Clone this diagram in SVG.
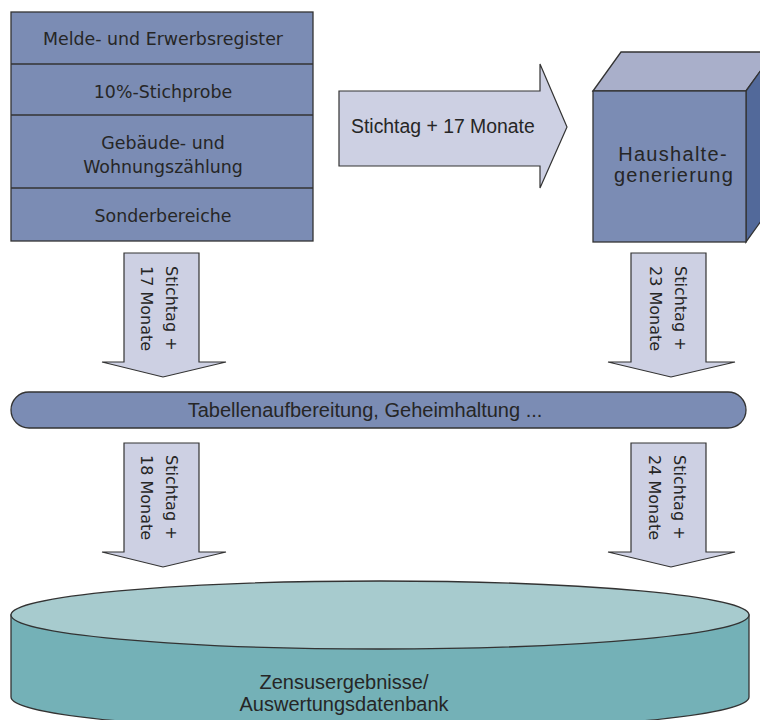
<svg xmlns="http://www.w3.org/2000/svg" width="760" height="720" viewBox="0 0 760 720">
<style>
.ln{stroke:#333;stroke-width:1.3;stroke-linejoin:miter}
.blue{fill:#7b8cb4}
.arr{fill:#cdd0e3;stroke:#333;stroke-width:1.2}
.t{font-family:"DejaVu Sans",sans-serif;fill:#262626;text-anchor:middle}
.st{font-size:17.4px}
.rt{font-family:"DejaVu Sans",sans-serif;fill:#262626;font-size:16px}
.h{font-family:"Liberation Sans",Arial,sans-serif;fill:#262626}
</style>
<rect width="760" height="720" fill="#fff"/>
<g id="connectors">
  <g id="arrow-right">
    <polygon class="arr" points="339,91 540,91 540,64 567,127 540,188 540,166 339,166"/>
    <text class="h" x="351" y="133" font-size="19.4">Stichtag + 17 Monate</text>
  </g>
  <g id="arrow-down-1">
    <polygon class="arr" points="124,253 199,253 199,362 226,362 163,377 102,362 124,362"/>
    <text class="rt" transform="translate(166,266) rotate(90)"><tspan x="0" y="0">Stichtag +</tspan><tspan x="0" y="25">17 Monate</tspan></text>
  </g>
  <g id="arrow-down-2">
    <polygon class="arr" points="631,253 706,253 706,362 735,362 671,377 608,362 631,362"/>
    <text class="rt" transform="translate(675,266) rotate(90)"><tspan x="0" y="0">Stichtag +</tspan><tspan x="0" y="25">23 Monate</tspan></text>
  </g>
  <g id="arrow-down-3">
    <polygon class="arr" points="124,443 199,443 199,552 226,552 163,567 102,552 124,552"/>
    <text class="rt" transform="translate(166,455) rotate(90)"><tspan x="0" y="0">Stichtag +</tspan><tspan x="0" y="25">18 Monate</tspan></text>
  </g>
  <g id="arrow-down-4">
    <polygon class="arr" points="631,443 706,443 706,552 735,552 671,567 608,552 631,552"/>
    <text class="rt" transform="translate(674,455) rotate(90)"><tspan x="0" y="0">Stichtag +</tspan><tspan x="0" y="25">24 Monate</tspan></text>
  </g>
</g>
<g id="sources">
  <rect class="blue ln" x="11" y="12" width="302" height="229"/>
  <line class="ln" x1="11" y1="64" x2="313" y2="64"/>
  <line class="ln" x1="11" y1="115" x2="313" y2="115"/>
  <line class="ln" x1="11" y1="188" x2="313" y2="188"/>
  <text class="t st" x="163" y="45">Melde- und Erwerbsregister</text>
  <text class="t st" x="163" y="98">10%-Stichprobe</text>
  <text class="t st" x="163" y="149">Gebäude- und</text>
  <text class="t st" x="163" y="173">Wohnungszählung</text>
  <text class="t st" x="163" y="222">Sonderbereiche</text>
</g>
<g id="haushalte">
  <polygon class="ln" fill="#a9afca" points="593,91 621,52 774,52 746,91"/>
  <polygon class="ln" fill="#52699a" points="746,91 774,52 774,203 746,242"/>
  <rect class="blue ln" x="593" y="91" width="153" height="151"/>
  <text class="h" x="673" y="161" font-size="20" letter-spacing="1.3" text-anchor="middle">Haushalte-</text>
  <text class="h" x="674" y="182" font-size="20" letter-spacing="1.2" text-anchor="middle">generierung</text>
</g>
<g id="tabellen">
  <rect class="blue ln" x="11" y="392" width="735" height="36" rx="18" ry="18"/>
  <text class="h" x="365" y="417" font-size="20" text-anchor="middle">Tabellenaufbereitung, Geheimhaltung ...</text>
</g>
<g id="datenbank">
  <path class="ln" fill="#74b1b7" d="M11,615 L11,697 A369,34 0 0 0 749,697 L749,615 Z"/>
  <ellipse class="ln" fill="#a7cbce" cx="380" cy="615" rx="369" ry="34"/>
  <text class="h" x="344" y="689" font-size="20" text-anchor="middle">Zensusergebnisse/</text>
  <text class="h" x="344" y="711" font-size="20" text-anchor="middle">Auswertungsdatenbank</text>
</g>
</svg>
